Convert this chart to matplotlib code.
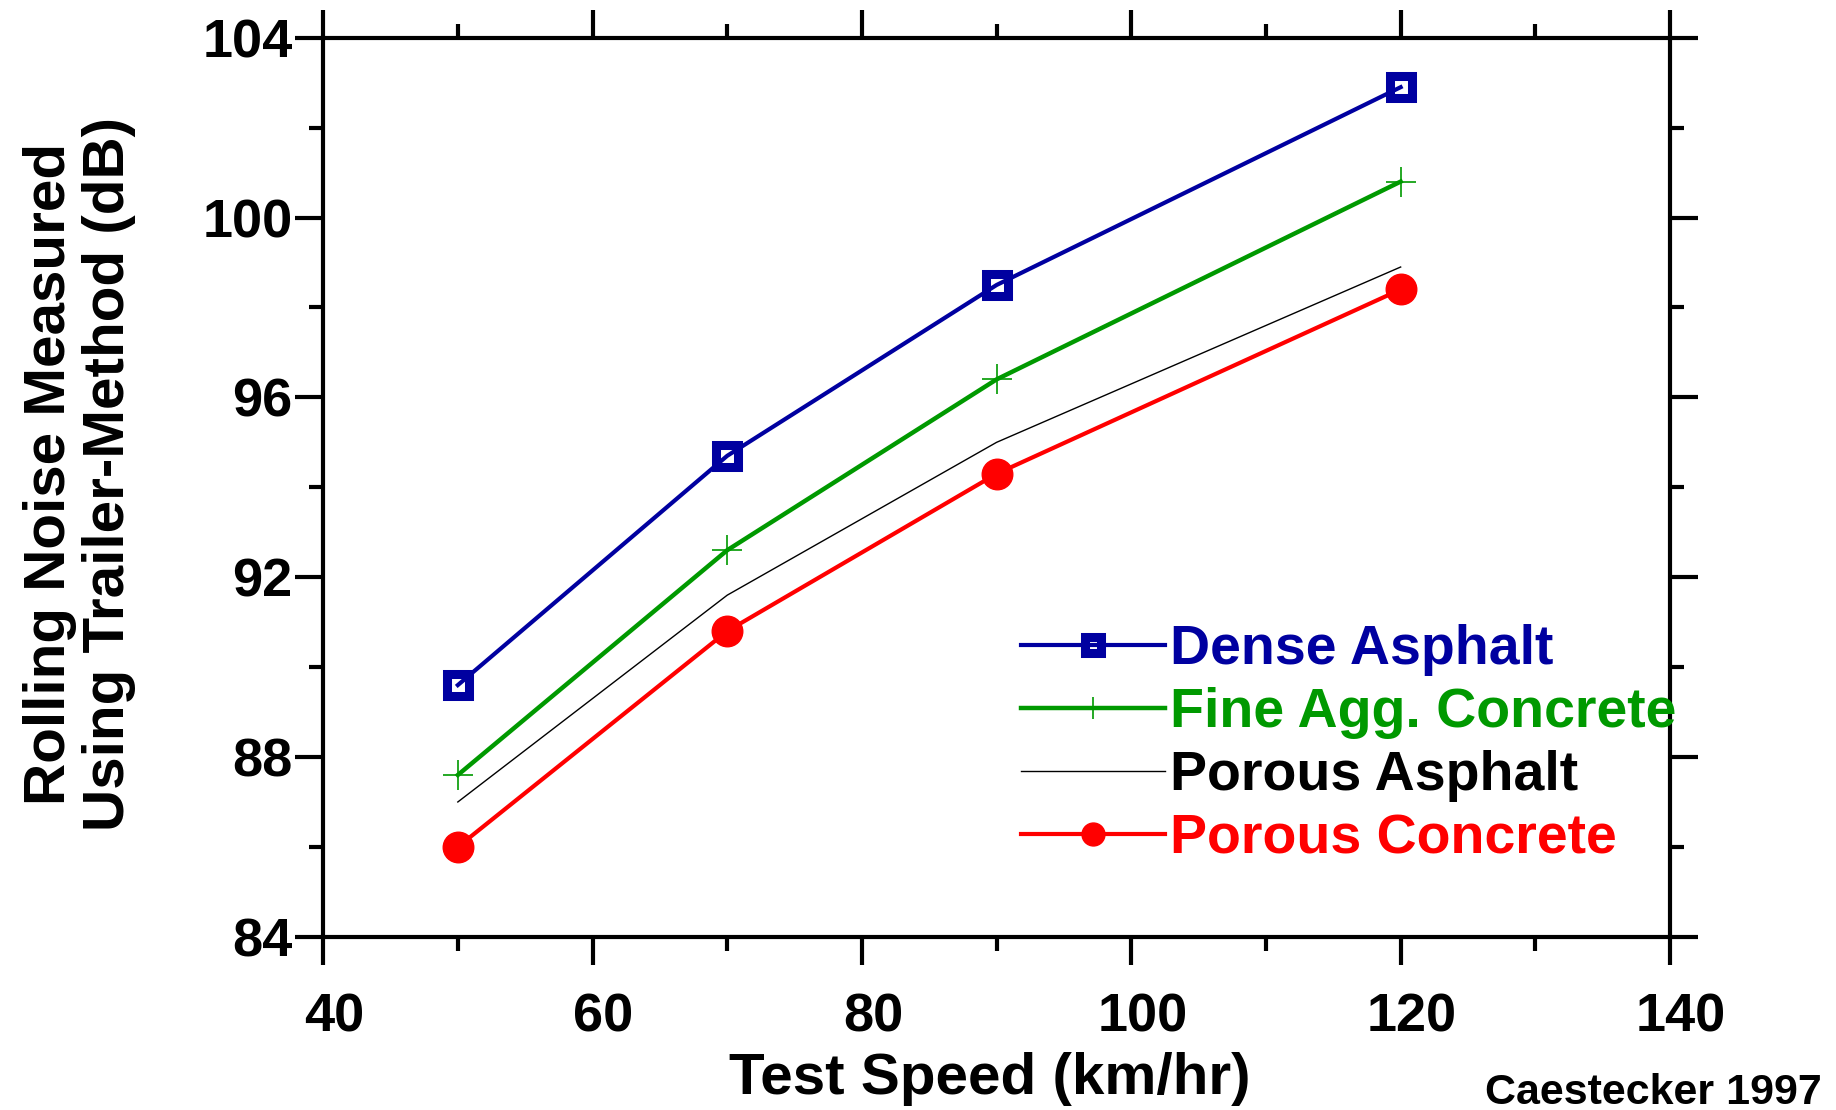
import matplotlib
matplotlib.use('Agg')
import matplotlib.pyplot as plt
from matplotlib.ticker import MultipleLocator
from matplotlib.transforms import ScaledTranslation

# 주행 속도별 소음 (trailer method)
speed = [50, 70, 90, 120]
dense_asphalt = [89.6, 94.7, 98.5, 102.9]
fine_agg_concrete = [87.6, 92.6, 96.4, 100.8]
porous_asphalt = [87.0, 91.6, 95.0, 98.9]
porous_concrete = [86.0, 90.8, 94.3, 98.4]

labels = ['Dense Asphalt', 'Fine Agg. Concrete', 'Porous Asphalt', 'Porous Concrete']
colors = ['#0000a0', '#009900', 'black', '#ff0000']

plt.rcParams['font.family'] = ['Liberation Sans', 'DejaVu Sans']
plt.rcParams['font.weight'] = 'bold'
plt.rcParams['axes.labelweight'] = 'bold'

fig = plt.figure(figsize=(18.36, 11.10), dpi=100)
ax = fig.add_axes([0.176, 0.156, 0.7336, 0.81])

ax.plot(speed, dense_asphalt, color=colors[0], lw=3, marker='s', ms=15.5, mew=6.5,
        mfc='none', mec=colors[0], label=labels[0])
ax.plot(speed, fine_agg_concrete, color=colors[1], lw=3.2, marker='+', ms=21.6, mew=1.2,
        label=labels[1])
ax.plot(speed, porous_asphalt, color=colors[2], lw=1, label=labels[2])
ax.plot(speed, porous_concrete, color=colors[3], lw=3, marker='o', ms=22,
        label=labels[3])

ax.set_xlim(40, 140)
ax.set_ylim(84, 104)
ax.xaxis.set_major_locator(MultipleLocator(20))
ax.xaxis.set_minor_locator(MultipleLocator(10))
ax.yaxis.set_major_locator(MultipleLocator(4))
ax.yaxis.set_minor_locator(MultipleLocator(2))

ax.tick_params(which='both', direction='out', top=True, right=True, width=3, labelsize=39)
ax.tick_params(which='major', length=20)
ax.tick_params(which='minor', length=10)
ax.tick_params(axis='x', pad=20)
ax.tick_params(axis='y', pad=2)
for s in ax.spines.values():
    s.set_linewidth(3)

ax.set_xlabel('Test Speed (km/hr)', fontsize=42, fontweight='bold')
ax.xaxis.set_label_coords(0.495, -0.128)
ax.set_ylabel('Rolling Noise Measured\nUsing Trailer-Method (dB)', fontsize=42,
              fontweight='bold', linespacing=1.12)
ax.yaxis.set_label_coords(-0.139, 0.515)

leg = ax.legend(loc='upper left', bbox_to_anchor=(1021 / 1836, 1 - 624 / 1110),
                bbox_transform=fig.transFigure, frameon=False, fontsize=40,
                handlelength=2.59, handletextpad=0.1, labelspacing=0.2,
                borderpad=0, borderaxespad=0, markerscale=0.75)
for t, c in zip(leg.get_texts(), colors):
    t.set_color(c)

fig.text(0.992, 0.0054, 'Caestecker 1997', ha='right', va='baseline', fontsize=31)

# x 눈금 라벨 오른쪽으로 살짝 이동
fig.canvas.draw()
offset = ScaledTranslation(0.11, 0, fig.dpi_scale_trans)
for lab in ax.get_xticklabels():
    lab.set_transform(lab.get_transform() + offset)

fig.savefig('out.png', dpi=100)
